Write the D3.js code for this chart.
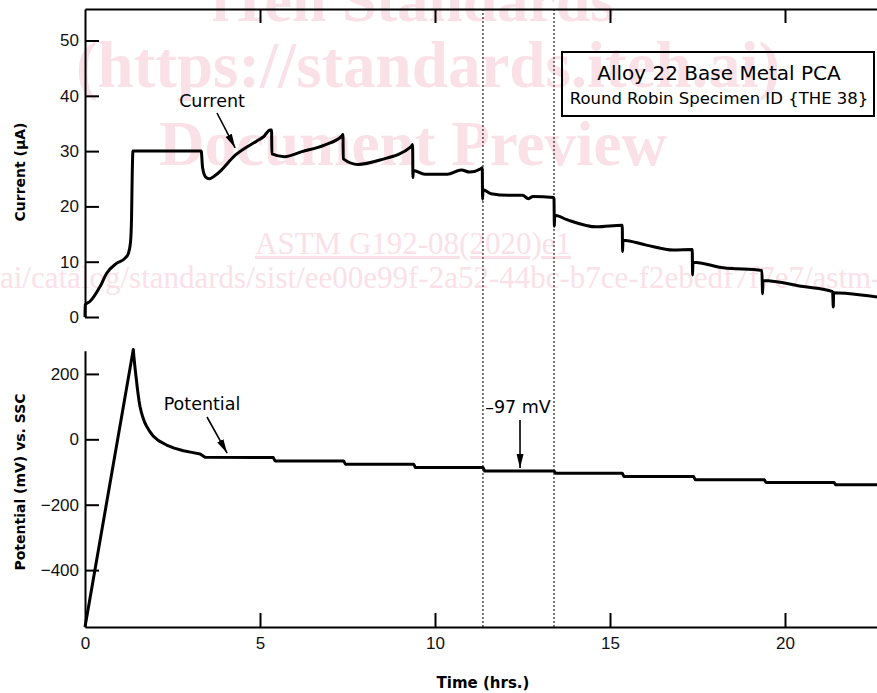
<!DOCTYPE html>
<html>
<head>
<meta charset="utf-8">
<script src="https://cdn.jsdelivr.net/npm/d3@7/dist/d3.min.js"></script>
<style>
  body { margin: 0; background: #fff; }
  svg { display: block; font-family: "DejaVu Sans", Verdana, sans-serif; }
  .axis path, .axis line { stroke: #000; stroke-width: 2px; }
  .axis text { font-size: 17px; fill: #111; }
  .wm { fill: #fae1e8; font-family: "Liberation Serif", "Times New Roman", serif; }
</style>
</head>
<body>
<svg id="chart" width="877" height="693"></svg>
<script>
// current trace (hrs, µA) – steps include the short downward spike after each change
const currentTime = [0, 0.005, 0.14, 0.43, 0.62, 0.9, 1.14, 1.24, 1.3, 1.33, 1.35, 1.37,
  3.32, 3.36, 3.45, 3.55, 3.8, 4.3, 4.9, 5.1, 5.29, 5.33,
  5.34, 5.7, 6.2, 6.84, 7.35, 7.37,
  7.38, 7.8, 8.43, 9.32, 9.36,
  9.37, 9.38, 9.71, 10.35, 10.75, 10.99, 11.31, 11.35,
  11.36, 11.37, 11.6, 12.1, 12.5, 12.67, 12.8, 13.38, 13.4,
  13.41, 13.42, 13.77, 14.62, 15.35,
  15.36, 15.37, 16.04, 16.81, 17.35,
  17.36, 17.37, 18.24, 19.34,
  19.36, 19.37, 20.52, 21.36,
  21.38, 21.39, 22.7, 24]
const currentValue = [0, 2.2, 2.8, 5.5, 7.9, 9.7, 10.6, 11.5, 13.5, 18, 26, 30,
  30, 27, 25.3, 25.0, 26.0, 29.3, 31.8, 32.6, 33.8, 33.8,
  29.5, 29.0, 29.9, 31.1, 32.8, 33.0,
  28.6, 27.6, 28.4, 30.8, 31.2,
  25.2, 26.5, 25.8, 25.8, 26.6, 26.2, 26.8, 27.0,
  21.3, 23.0, 22.3, 22.0, 22.0, 21.4, 21.8, 21.6, 21.4,
  16.4, 18.4, 17.6, 16.3, 16.6,
  11.8, 13.9, 13.0, 12.1, 12.2,
  7.6, 9.9, 8.9, 8.4,
  4.2, 6.6, 5.5, 4.6,
  1.8, 4.4, 3.6, 3.2]

// potential trace (hrs, mV)
const potentialTime = [0, 1.38, 1.4, 1.42, 1.445, 1.47, 1.495, 1.52, 1.545, 1.57, 1.61, 1.65, 1.7, 1.76, 1.85, 1.95,
  2.1, 2.33, 2.55, 2.81, 3.05, 3.29, 3.43,
  5.38, 5.43, 7.39, 7.44, 9.39, 9.44, 11.37, 11.42, 13.4, 13.45,
  15.35, 15.4, 17.39, 17.44, 19.41, 19.46, 21.4, 21.45, 24]
const potentialValue = [-574, 275, 250, 228, 203, 181, 157, 136, 117, 101, 83, 68, 53, 40, 24, 10,
  -4, -17.5, -27, -35, -40, -45, -55,
  -56, -66, -66, -76, -76, -86, -86, -97, -97, -104,
  -104, -114, -114, -124, -124, -132, -132, -139, -139]

const timeTicks = [0, 5, 10, 15, 20]
const currentTicks = [0, 10, 20, 30, 40, 50]
const potentialTicks = [-400, -200, 0, 200]
const markerTimes = [11.37, 13.4]

const svg = d3.select("#chart")

const x = d3.scaleLinear().domain([0, 25]).range([85, 960])
const yCur = d3.scaleLinear().domain([0, 55.7]).range([317, 9])
const yPot = d3.scaleLinear().domain([-574, 271]).range([627, 350.7])

// watermark (behind the chart)
const wm = svg.append("g")
wm.append("text").attr("class", "wm").attr("x", 413).attr("y", 21).attr("text-anchor", "middle")
  .attr("font-size", 62).attr("font-weight", "bold").text("iTeh Standards")
wm.append("text").attr("class", "wm").attr("x", 428).attr("y", 87).attr("text-anchor", "middle")
  .attr("font-size", 65).attr("font-weight", "bold").text("(https://standards.iteh.ai)")
wm.append("text").attr("class", "wm").attr("x", 413).attr("y", 165).attr("text-anchor", "middle")
  .attr("font-size", 63).attr("font-weight", "bold").text("Document Preview")
wm.append("text").attr("class", "wm").attr("x", 413).attr("y", 254).attr("text-anchor", "middle")
  .attr("font-size", 31).attr("text-decoration", "underline").text("ASTM G192-08(2020)e1")
wm.append("text").attr("class", "wm").attr("x", 0).attr("y", 288)
  .attr("font-size", 31).text("ai/catalog/standards/sist/ee00e99f-2a52-44bc-b7ce-f2ebedf7f7e7/astm-g192-082020e1")

// dotted markers
svg.selectAll(".marker").data(markerTimes).enter().append("line")
  .attr("class", "marker")
  .attr("x1", (d) => x(d)).attr("x2", (d) => x(d))
  .attr("y1", 9).attr("y2", 627)
  .attr("stroke", "#222").attr("stroke-width", 1.2).attr("stroke-dasharray", "2,2")

// axes – top panel
svg.append("g").attr("class", "axis").attr("transform", "translate(85,0)")
  .call(d3.axisLeft(yCur).tickValues(currentTicks).tickSize(-14).tickSizeOuter(0).tickPadding(6))
svg.append("g").attr("class", "axis").attr("transform", "translate(0,9)")
  .call(d3.axisTop(x).tickValues(timeTicks.slice(1)).tickSize(-14).tickSizeOuter(0).tickFormat(""))

// axes – bottom panel
svg.append("g").attr("class", "axis").attr("transform", "translate(85,0)")
  .call(d3.axisLeft(yPot).tickValues(potentialTicks).tickSize(-14).tickSizeOuter(0).tickPadding(6))
const xAxis = svg.append("g").attr("class", "axis").attr("transform", "translate(0,627)")
  .call(d3.axisBottom(x).tickValues(timeTicks).tickSize(-14).tickSizeOuter(0).tickPadding(10))
xAxis.selectAll(".tick line").filter((d) => d === 0).remove()

// traces
const currentPts = currentTime.map((t, i) => [t, currentValue[i]])
const potentialPts = potentialTime.map((t, i) => [t, potentialValue[i]])

svg.append("path").datum(currentPts)
  .attr("fill", "none").attr("stroke", "#000").attr("stroke-width", 3).attr("stroke-linejoin", "round")
  .attr("d", d3.line().curve(d3.curveMonotoneX).x((d) => x(d[0])).y((d) => yCur(d[1])))
svg.append("path").datum(potentialPts)
  .attr("fill", "none").attr("stroke", "#000").attr("stroke-width", 3).attr("stroke-linejoin", "round")
  .attr("d", d3.line().x((d) => x(d[0])).y((d) => yPot(d[1])))

// axis titles
svg.append("text").attr("transform", "translate(25,172) rotate(-90)").attr("text-anchor", "middle")
  .attr("font-size", 14).attr("font-weight", "bold").text("Current (µA)")
svg.append("text").attr("transform", "translate(25,482) rotate(-90)").attr("text-anchor", "middle")
  .attr("font-size", 14).attr("font-weight", "bold").text("Potential (mV) vs. SSC")
svg.append("text").attr("x", 483).attr("y", 688).attr("text-anchor", "middle")
  .attr("font-size", 15).attr("font-weight", "bold").text("Time (hrs.)")

// legend box
svg.append("rect").attr("x", 562).attr("y", 52).attr("width", 312).attr("height", 64)
  .attr("fill", "none").attr("stroke", "#000").attr("stroke-width", 2)
svg.append("text").attr("x", 719).attr("y", 80).attr("text-anchor", "middle")
  .attr("font-size", 20).text("Alloy 22 Base Metal PCA")
svg.append("text").attr("x", 719).attr("y", 104).attr("text-anchor", "middle")
  .attr("font-size", 16.5).text("Round Robin Specimen ID {THE 38}")

// annotations
const defs = svg.append("defs")
const notes = [
  { label: "Current", tx: 212, ty: 107, x1: 217, y1: 113, t: 4.29, v: 30.6, panel: "cur" },
  { label: "Potential", tx: 202, ty: 410, x1: 207, y1: 417, t: 4.06, v: -42, panel: "pot" },
  { label: "\u201397 mV", tx: 518, ty: 413, x1: 520, y1: 420, t: 12.43, v: -88, panel: "pot" },
]
notes.forEach((n, i) => {
  svg.append("text").attr("x", n.tx).attr("y", n.ty).attr("text-anchor", "middle")
    .attr("font-size", 17.5).text(n.label)
  const ys = n.panel === "cur" ? yCur : yPot
  defs.append("marker").attr("id", "arr-" + i).attr("viewBox", "0 0 10 10")
    .attr("refX", 10).attr("refY", 5).attr("markerWidth", 14).attr("markerHeight", 14)
    .attr("markerUnits", "userSpaceOnUse").attr("orient", "auto")
    .append("path").attr("d", "M0,2.5L10,5L0,7.5Z").attr("fill", "#000")
  svg.append("line").attr("x1", n.x1).attr("y1", n.y1).attr("x2", x(n.t)).attr("y2", ys(n.v))
    .attr("stroke", "#000").attr("stroke-width", 1.6).attr("marker-end", `url(#arr-${i})`)
})
</script>
</body>
</html>
